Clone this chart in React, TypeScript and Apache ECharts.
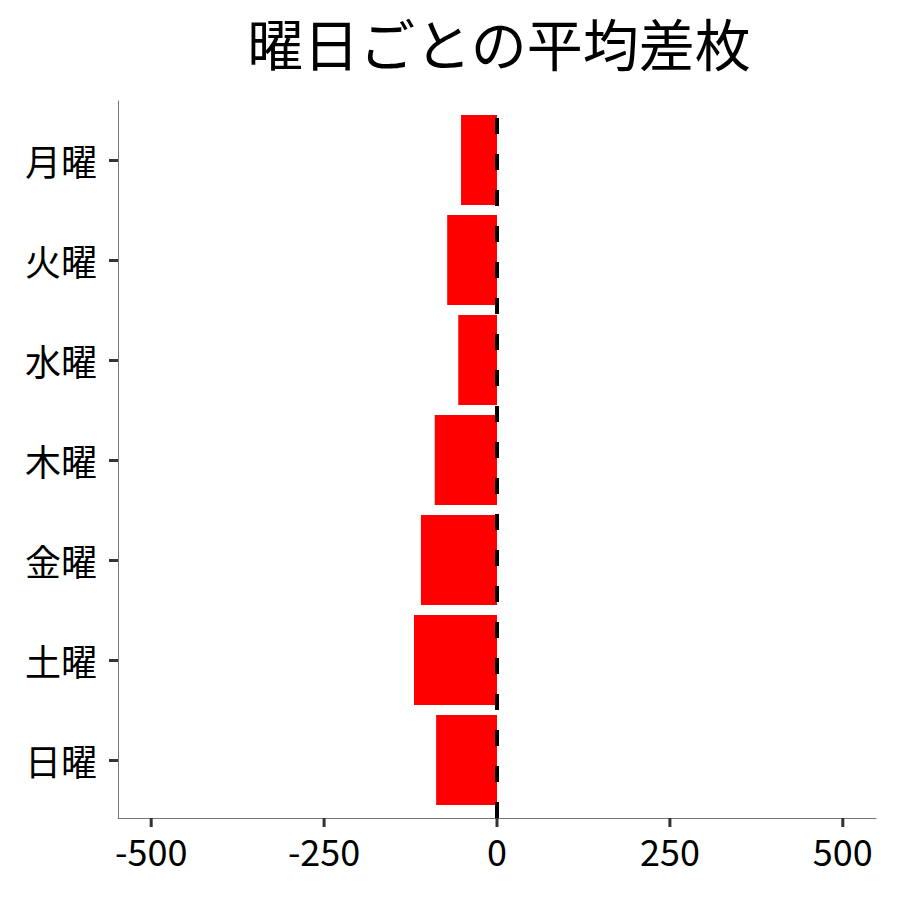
import { useRef, useEffect } from "react";
import * as echarts from "echarts";

const days = ["月曜", "火曜", "水曜", "木曜", "金曜", "土曜", "日曜"];
const avgDiff = [-52, -72, -56, -90, -110, -120, -88];
const xTicks = [-500, -250, 0, 250, 500];
const refLineX = [0, 0];
const refLineY = [0, 1];

const FONT = "'Noto Sans CJK JP', 'Noto Sans', sans-serif";
const X_MIN = -548;
const X_MAX = 548;

export default function App() {
  const chartRef = useRef<HTMLDivElement>(null);

  useEffect(() => {
    document.body.style.margin = "0";
    if (!chartRef.current) return;
    const chart = echarts.init(chartRef.current, null, { renderer: "svg" });

    const option: any = {
      animation: false,
      backgroundColor: "#fff",
      title: {
        text: "曜日ごとの平均差枚",
        left: 494,
        top: 8,
        textAlign: "center",
        textStyle: { fontFamily: FONT, fontSize: 56, fontWeight: "normal", color: "#000" },
      },
      grid: [
        // bars
        { left: 118, width: 758, top: 110, height: 700 },
        // panel frame, x axis and the zero line
        { left: 118, width: 758, top: 101, height: 717 },
      ],
      xAxis: [
        { type: "value", gridIndex: 0, min: X_MIN, max: X_MAX, show: false },
        {
          type: "value",
          gridIndex: 1,
          min: X_MIN,
          max: X_MAX,
          position: "bottom",
          axisLine: { show: true, onZero: false, lineStyle: { color: "#777", width: 1 } },
          axisTick: { show: false },
          axisLabel: {
            customValues: xTicks,
            margin: 14,
            fontFamily: FONT,
            fontSize: 36,
            color: "#000",
          },
          splitLine: { show: false },
        },
      ],
      yAxis: [
        {
          type: "category",
          gridIndex: 0,
          data: days,
          inverse: true,
          position: "left",
          axisLine: { show: false, onZero: false },
          axisTick: {
            show: true,
            alignWithLabel: true,
            length: 9,
            lineStyle: { color: "#333", width: 3 },
          },
          axisLabel: { margin: 21, fontFamily: FONT, fontSize: 36, color: "#000" },
          splitLine: { show: false },
        },
        {
          type: "value",
          gridIndex: 1,
          min: 0,
          max: 1,
          position: "left",
          axisLine: { show: true, onZero: false, lineStyle: { color: "#777", width: 1 } },
          axisTick: { show: false },
          axisLabel: { show: false },
          splitLine: { show: false },
        },
      ],
      series: [
        {
          type: "bar",
          xAxisIndex: 0,
          yAxisIndex: 0,
          data: avgDiff,
          barWidth: "90%",
          itemStyle: { color: "#ff0000" },
        },
        {
          type: "line",
          xAxisIndex: 1,
          yAxisIndex: 1,
          data: refLineX.map((x, i) => [x, refLineY[i]]),
          showSymbol: false,
          symbol: "none",
          silent: true,
          lineStyle: { color: "#000", width: 4, type: [16, 20] },
          z: 3,
        },
      ],
    };

    chart.setOption(option);

    // x tick marks, placed through the axis scale
    const tickMarks = xTicks.map((v) => {
      const [px, py] = chart.convertToPixel({ xAxisIndex: 1, yAxisIndex: 1 }, [v, 0]) as number[];
      return {
        type: "rect",
        z: 100,
        silent: true,
        shape: { x: px - 1.5, y: py, width: 3, height: 9 },
        style: { fill: "#333" },
      };
    });
    chart.setOption({ graphic: tickMarks });

    return () => chart.dispose();
  }, []);

  return <div ref={chartRef} style={{ width: 900, height: 900 }} />;
}
